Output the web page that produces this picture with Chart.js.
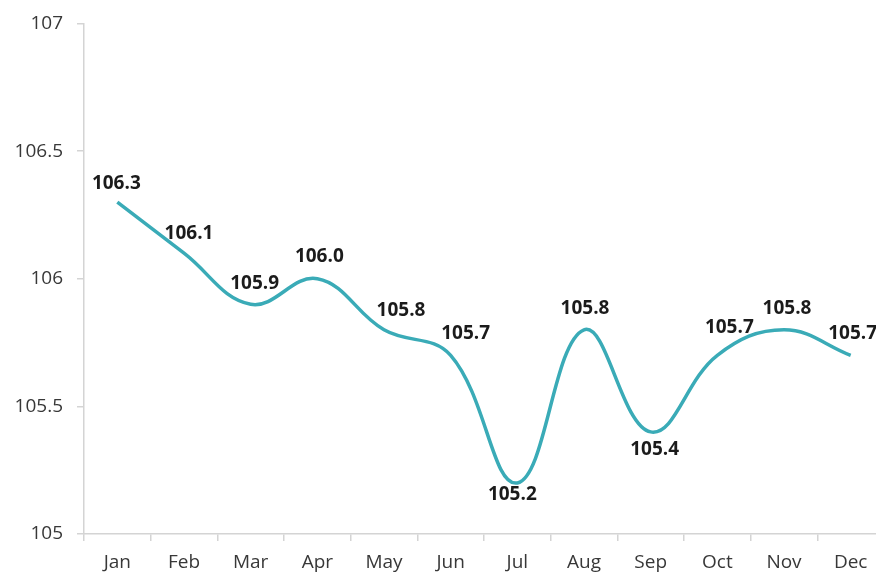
<!DOCTYPE html>
<html>
<head>
<meta charset="utf-8">
<script src="https://cdn.jsdelivr.net/npm/chart.js@4.4.1/dist/chart.umd.min.js"></script>
<style>
  html, body { margin: 0; padding: 0; background: #fff; overflow: hidden; }
  #wrap { width: 892px; height: 574px; }
</style>
</head>
<body>
<div id="wrap"><canvas id="chart" width="892" height="574"></canvas></div>
<script>
// Monthly index values
const months = ['Jan', 'Feb', 'Mar', 'Apr', 'May', 'Jun', 'Jul', 'Aug', 'Sep', 'Oct', 'Nov', 'Dec'];
const indexValues = [106.3, 106.1, 105.9, 106.0, 105.8, 105.7, 105.2, 105.8, 105.4, 105.7, 105.8, 105.7];
const yTicks = [105, 105.5, 106, 106.5, 107];

// Where each value label sits relative to its point (pixels)
const labelOffsets = [
  [-1, -19], [5, -20], [4, -21], [2, -22], [17, -19], [15, -22],
  [-5, 12], [1, -21], [4, 18], [12, -28], [3, -21], [2, -22]
];

const valueLabels = {
  id: 'valueLabels',
  afterDatasetsDraw(chart) {
    const ctx = chart.ctx;
    const meta = chart.getDatasetMeta(0);
    ctx.save();
    ctx.font = 'bold 19px "Open Sans", sans-serif';
    ctx.fillStyle = '#1b1b1b';
    ctx.textAlign = 'center';
    ctx.textBaseline = 'middle';
    meta.data.forEach((pt, i) => {
      const [dx, dy] = labelOffsets[i];
      ctx.fillText(indexValues[i].toFixed(1), pt.x + dx, pt.y + dy);
    });
    ctx.restore();
  }
};

const axisColor = '#d4d4d4';

new Chart(document.getElementById('chart'), {
  type: 'line',
  data: {
    labels: months,
    datasets: [{
      data: indexValues,
      borderColor: '#3aabb7',
      borderWidth: 3.5,
      tension: 0.4,
      pointRadius: 0,
      fill: false
    }]
  },
  options: {
    responsive: false,
    animation: false,
    layout: { padding: { top: 22, right: 8, bottom: 0, left: 0 } },
    plugins: { legend: { display: false }, tooltip: { enabled: false } },
    scales: {
      x: {
        offset: true,
        grid: { display: true, offset: true, drawOnChartArea: false, drawTicks: true, tickLength: 7, color: axisColor, lineWidth: 1.5 },
        border: { display: true, color: axisColor, width: 1.5 },
        ticks: { color: '#383838', font: { family: '"Open Sans", sans-serif', size: 19 }, padding: 10, maxRotation: 0 },
        afterFit(scale) { scale.height = 40; }
      },
      y: {
        min: 105,
        max: 107,
        afterBuildTicks(scale) { scale.ticks = yTicks.map(v => ({ value: v })); },
        grid: { display: true, drawOnChartArea: false, drawTicks: true, tickLength: 7, color: axisColor, lineWidth: 1.5 },
        border: { display: true, color: axisColor, width: 1.5 },
        ticks: {
          color: '#383838',
          font: { family: '"Open Sans", sans-serif', size: 19, lineHeight: 1 },
          padding: 14,
          callback: (v) => String(v)
        },
        afterFit(scale) { scale.width = 84; }
      }
    }
  },
  plugins: [valueLabels]
});
</script>
</body>
</html>
